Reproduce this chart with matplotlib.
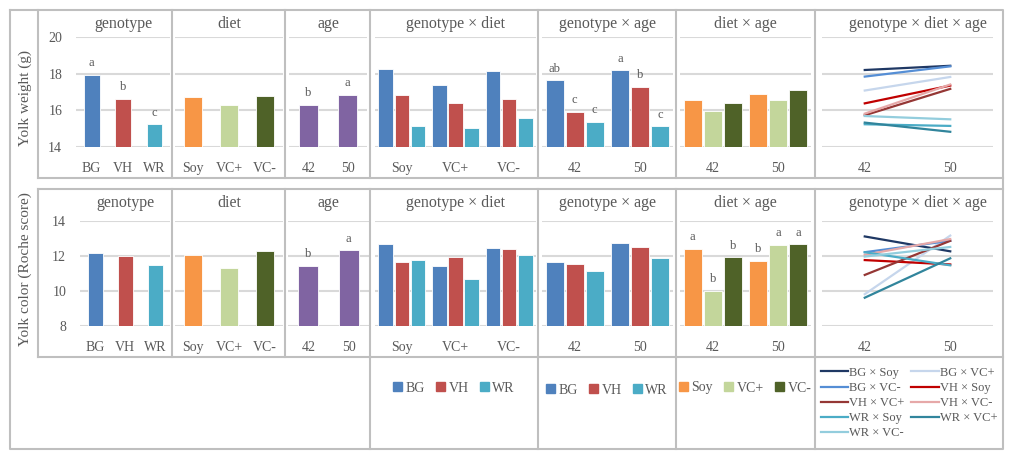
import numpy as np
import matplotlib
matplotlib.use('Agg')
import matplotlib.pyplot as plt
from matplotlib.lines import Line2D
from matplotlib.patches import Patch

plt.rcParams['font.family'] = ['Liberation Serif', 'DejaVu Serif']
TXT = '#595959'
GRID = '#D9D9D9'
BORDER = '#BFBFBF'

# categories
genotypes = ['BG', 'VH', 'WR']
diets = ['Soy', 'VC+', 'VC-']
ages = ['42', '50']
combos = ['BG × Soy', 'BG × VC+', 'BG × VC-', 'VH × Soy', 'VH × VC+', 'VH × VC-',
          'WR × Soy', 'WR × VC+', 'WR × VC-']

# yolk weight (g)
weight_genotype = [17.95, 16.62, 15.23]
weight_diet = [16.73, 16.28, 16.77]
weight_age = [16.31, 16.84]
weight_gxd = [[18.23, 17.38, 18.12], [16.82, 16.39, 16.62], [15.12, 15.05, 15.57]]
weight_gxa = [[17.65, 18.19], [15.93, 17.27], [15.37, 15.12]]
weight_dxa = [[16.55, 16.91], [15.99, 16.55], [16.42, 17.13]]
weight_gxdxa = [[18.20, 18.43], [17.08, 17.82], [17.84, 18.40], [16.38, 17.35], [15.73, 17.17],
                [15.82, 17.41], [15.24, 15.15], [15.33, 14.83], [15.69, 15.51]]
weight_genotype_letters = ['a', 'b', 'c']
weight_age_letters = ['b', 'a']
weight_gxa_letters = [['ab', 'a'], ['c', 'b'], ['c', 'c']]

# yolk color (Roche score)
color_genotype = [12.17, 11.98, 11.49]
color_diet = [12.02, 11.30, 12.25]
color_age = [11.41, 12.32]
color_gxd = [[12.67, 11.42, 12.42], [11.63, 11.91, 12.38], [11.78, 10.64, 12.06]]
color_gxa = [[11.64, 12.74], [11.53, 12.47], [11.13, 11.89]]
color_dxa = [[12.38, 11.70], [10.00, 12.62], [11.90, 12.66]]
color_gxdxa = [[13.10, 12.25], [9.80, 13.15], [12.20, 12.85], [11.75, 11.50], [10.90, 12.85],
               [12.05, 12.95], [12.20, 11.45], [9.60, 11.85], [11.95, 12.50]]
color_age_letters = ['b', 'a']
color_dxa_letters = [['a', 'b'], ['b', 'a'], ['b', 'a']]

genotype_colors = ['#4F81BD', '#C0504D', '#4BACC6']
diet_colors = ['#F79646', '#C3D69B', '#4F6228']
age_color = '#8064A2'
line_colors = ['#1F3864', '#C6D6EC', '#558ED5', '#C00000', '#953735', '#E6A8A8',
               '#4BACC6', '#31859C', '#93CDDD']

W, H = 1015, 458
fig = plt.figure(figsize=(W / 100, H / 100), dpi=100)


def px_axes(x0, x1, y0, y1):
    return fig.add_axes([x0 / W, 1 - y1 / H, (x1 - x0) / W, (y1 - y0) / H])


def fline(xs, ys):
    fig.add_artist(Line2D([x / W for x in xs], [1 - y / H for y in ys],
                          color=BORDER, lw=1.5, transform=fig.transFigure))


def style(ax, ylim, yticks, first=False):
    ax.set_ylim(*ylim)
    ax.set_yticks(yticks)
    ax.yaxis.grid(True, color=GRID, lw=1.5)
    ax.set_axisbelow(True)
    for s in ax.spines.values():
        s.set_visible(False)
    ax.tick_params(axis='both', length=0, labelsize=10, colors=TXT)
    ax.tick_params(axis='x', pad=11)
    ax.tick_params(axis='y', pad=10)
    if not first:
        ax.set_yticklabels([])


def letter(ax, x, y, s):
    ax.annotate(s, (x, y), xytext=(0, 4), textcoords='offset points',
                ha='center', va='bottom', fontsize=9, color=TXT)


def simple_bars(ax, labels, vals, colors, letters=None):
    x = np.arange(len(labels))
    ax.bar(x, vals, width=0.5, color=colors, edgecolor='white', lw=0.6)
    ax.set_xticks(x, labels)
    ax.set_xlim(-0.5, len(labels) - 0.5)
    if letters:
        for xi, v, s in zip(x, vals, letters):
            letter(ax, xi, v, s)


def grouped_bars(ax, groups, series, colors, letters=None, step=0.3):
    x = np.arange(len(groups))
    n = len(series)
    for i, vals in enumerate(series):
        xs = x + (i - (n - 1) / 2) * step
        ax.bar(xs, vals, width=step * 0.9, color=colors[i], edgecolor='white', lw=0.6)
        if letters:
            for xi, v, s in zip(xs, vals, letters[i]):
                letter(ax, xi, v, s)
    ax.set_xticks(x, groups)
    ax.set_xlim(-0.5, len(groups) - 0.5)


def line_panel(ax, series):
    x = np.arange(len(ages))
    for vals, c in zip(series, line_colors):
        ax.plot(x, vals, color=c, lw=1.6)
    ax.set_xticks(x, ages)
    ax.set_xlim(-0.5, 1.5)


titles = ['genotype', 'diet', 'age', 'genotype × diet', 'genotype × age', 'diet × age',
          'genotype × diet × age']
cells = [38, 172, 285, 370, 538, 676, 815, 1003]
top_x = [(76, 170), (175, 283), (289, 367), (375, 536), (542, 673), (680, 811), (822, 993)]
bot_x = [(80, 170), (175, 283), (288, 369), (375, 536), (542, 673), (680, 811), (822, 993)]

rows = [
    dict(xs=top_x, y0=37, y1=147, ylim=(14, 20), yticks=[14, 16, 18, 20], title_y=24,
         data=[weight_genotype, weight_diet, weight_age, weight_gxd, weight_gxa, weight_dxa,
               weight_gxdxa],
         letters=[weight_genotype_letters, None, weight_age_letters, None, weight_gxa_letters,
                  None]),
    dict(xs=bot_x, y0=220.7, y1=325.7, ylim=(8, 14), yticks=[8, 10, 12, 14], title_y=203,
         data=[color_genotype, color_diet, color_age, color_gxd, color_gxa, color_dxa,
               color_gxdxa],
         letters=[None, None, color_age_letters, None, None, color_dxa_letters]),
]

for row in rows:
    axes = []
    for k, (x0, x1) in enumerate(row['xs']):
        ax = px_axes(x0, x1, row['y0'], row['y1'])
        style(ax, row['ylim'], row['yticks'], first=(k == 0))
        axes.append(ax)
        tx = (x0 + x1) / 2 + (10 if k == 6 else 0)
        fig.text(tx / W, 1 - row['title_y'] / H, titles[k], ha='center', va='center',
                 fontsize=11.5, color=TXT)
    d, L = row['data'], row['letters']
    simple_bars(axes[0], genotypes, d[0], genotype_colors, L[0])
    simple_bars(axes[1], diets, d[1], diet_colors, L[1])
    simple_bars(axes[2], ages, d[2], [age_color] * 2, L[2])
    grouped_bars(axes[3], diets, d[3], genotype_colors, L[3], step=0.3)
    grouped_bars(axes[4], ages, d[4], genotype_colors, L[4], step=0.305)
    grouped_bars(axes[5], ages, d[5], diet_colors, L[5], step=0.305)
    line_panel(axes[6], d[6])

fig.text(25 / W, 1 - 98 / H, 'Yolk weight (g)', rotation=90, ha='center', va='center',
         fontsize=11, color=TXT)
fig.text(25 / W, 1 - 269 / H, 'Yolk color (Roche score)', rotation=90, ha='center',
         va='center', fontsize=11, color=TXT)

# table borders
fline([10, 1003, 1003, 10, 10], [10, 10, 449, 449, 10])
fline([38, 1003], [178, 178])
fline([38, 1003], [189, 189])
fline([38, 1003], [357, 357])
fline([38, 38], [10, 178])
fline([38, 38], [189, 357])
for cx in cells[1:-1]:
    fline([cx, cx], [10, 178])
    fline([cx, cx], [189, 357])
for cx in [370, 538, 676, 815]:
    fline([cx, cx], [357, 449])

# legends
geno_handles = [Patch(color=c) for c in genotype_colors]
diet_handles = [Patch(color=c) for c in diet_colors]
for (cx, cy, hs, lb) in [(454, 388, geno_handles, genotypes),
                         (607, 390, geno_handles, genotypes),
                         (745, 388, diet_handles, diets)]:
    fig.legend(hs, lb, loc='center', bbox_to_anchor=(cx / W, 1 - cy / H), ncol=3,
               frameon=False, fontsize=10, handlelength=0.65, handleheight=0.65,
               handletextpad=0.25, columnspacing=0.8, labelcolor=TXT)

order = [0, 2, 4, 6, 8, 1, 3, 5, 7]
line_handles = [Line2D([], [], color=line_colors[i], lw=1.6) for i in order]
fig.legend(line_handles, [combos[i] for i in order], loc='center',
           bbox_to_anchor=(909 / W, 1 - 403 / H), ncol=2, frameon=False, fontsize=9,
           handlelength=2.2, handletextpad=0.1, columnspacing=0.5, labelspacing=0.25,
           labelcolor=TXT, borderpad=0.2)

fig.savefig('out.png', dpi=100)
